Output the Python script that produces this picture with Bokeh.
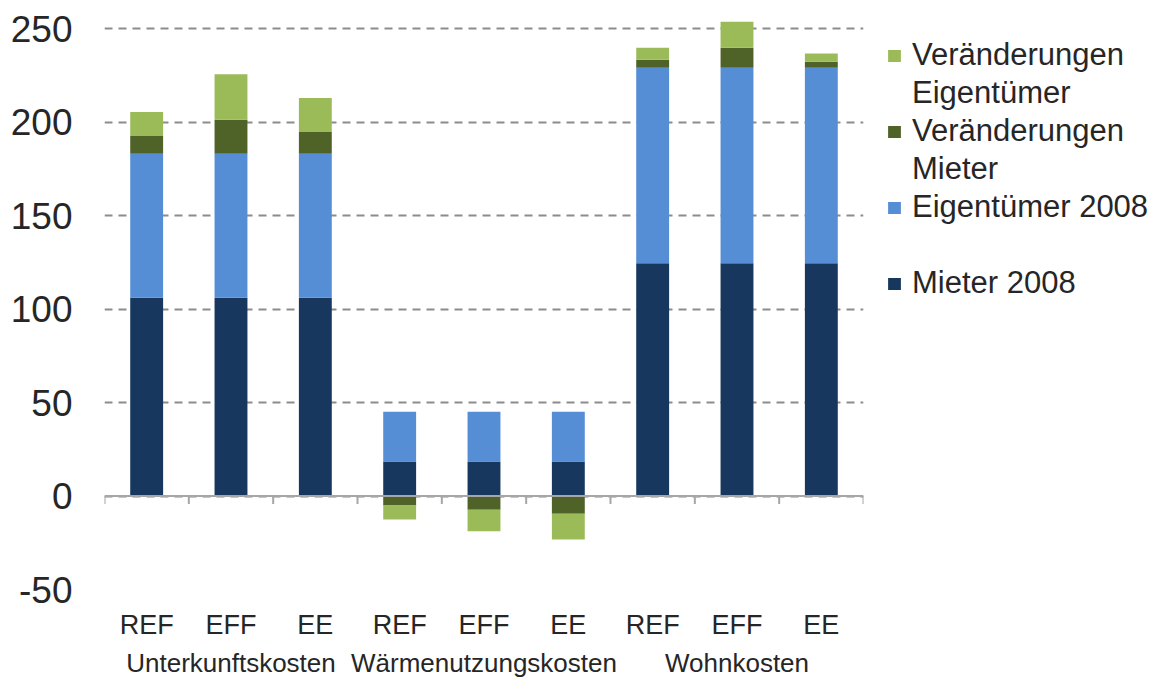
from bokeh.plotting import figure
from bokeh.models import (FactorRange, Range1d, FixedTicker, Legend, LegendItem,
                          ColumnDataSource, Span)
from bokeh.embed import file_html
from bokeh.resources import INLINE

# --- data -------------------------------------------------------------------
groups = ["Unterkunftskosten", "Wärmenutzungskosten", "Wohnkosten"]
scenarios = ["REF", "EFF", "EE"]

mieter_2008 = [106, 106, 106, 18.5, 18.5, 18.5, 124.5, 124.5, 124.5]
eigentuemer_2008 = [77, 77, 77, 26.5, 26.5, 26.5, 104.5, 104.5, 104.5]
veraenderungen_mieter = [9.5, 18.2, 11.6, -5.1, -7.4, -9.5, 4.3, 10.7, 3.2]
veraenderungen_eigentuemer = [12.9, 24.4, 18.2, -7.5, -11.4, -13.8, 6.4, 13.9, 4.5]

series_values = [mieter_2008, eigentuemer_2008,
                 veraenderungen_mieter, veraenderungen_eigentuemer]
series_colors = ["#17375E", "#558ED5", "#4F6228", "#9BBB59"]
# legend text per series, one list entry per printed line
series_labels = [["Mieter 2008"], ["Eigentümer 2008", ""],
                 ["Veränderungen", "Mieter"], ["Veränderungen", "Eigentümer"]]

y_ticks = [-50, 0, 50, 100, 150, 200, 250]

factors = [(g, s) for g in groups for s in scenarios]

# --- stacking: positives upward, negatives downward -------------------------
pos_base = [0.0] * len(factors)
neg_base = [0.0] * len(factors)
stacks = []
for vals in series_values:
    bottoms, tops = [], []
    for i, v in enumerate(vals):
        if v >= 0:
            bottoms.append(pos_base[i]); tops.append(pos_base[i] + v)
            pos_base[i] += v
        else:
            bottoms.append(neg_base[i]); tops.append(neg_base[i] + v)
            neg_base[i] += v
    stacks.append((bottoms, tops))

# --- figure -----------------------------------------------------------------
FONT = "Liberation Sans"
TEXT = "#262626"
PX_PER_UNIT = 561 / 300           # vertical scale of the value axis
Y_END = 257.5                     # headroom so the tallest bar is not clipped
FRAME_W = 759
FRAME_H = round((Y_END - y_ticks[0]) * PX_PER_UNIT)
BOTTOM_Y = 589                    # canvas row of the frame's lower edge
LEFT, RIGHT = 104, 300
TOP = BOTTOM_Y - FRAME_H

x_range = FactorRange(*factors, range_padding=0, group_padding=0,
                      factor_padding=0, subgroup_padding=0)
p = figure(x_range=x_range, y_range=Range1d(y_ticks[0], Y_END),
           frame_width=FRAME_W, frame_height=FRAME_H,
           output_backend="svg", toolbar_location=None,
           min_border_left=LEFT, min_border_right=RIGHT, min_border_top=TOP,
           min_border_bottom=686 - BOTTOM_Y)
p.outline_line_color = None
p.background_fill_color = "white"

renderers = []
for (bottoms, tops), color in zip(stacks, series_colors):
    src = ColumnDataSource(dict(x=factors, bottom=bottoms, top=tops))
    r = p.vbar(x="x", bottom="bottom", top="top", width=0.39, source=src,
               fill_color=color, line_color=None)
    renderers.append(r)

# horizontal axis line at zero with downward ticks at category borders
p.add_layout(Span(location=0, dimension="width", line_color="#A6A6A6",
                  line_width=2))
edges = [(g, s, -0.5) for g, s in factors] + [factors[-1] + (0.5,)]
tick_len = 8 / PX_PER_UNIT
p.segment(x0=edges, x1=edges, y0=[0] * len(edges), y1=[-tick_len] * len(edges),
          line_color="#A6A6A6", line_width=2)

# grid
p.xgrid.grid_line_color = None
p.ygrid.ticker = FixedTicker(ticks=y_ticks)
p.ygrid.grid_line_color = "#8C8C8C"
p.ygrid.grid_line_width = 2
p.ygrid.grid_line_dash = "8 6"

# y axis
p.yaxis.ticker = FixedTicker(ticks=y_ticks)
p.yaxis.major_label_overrides = {t: str(t) for t in y_ticks}
p.yaxis.axis_line_color = None
p.yaxis.major_tick_line_color = None
p.yaxis.minor_tick_line_color = None
p.yaxis.major_label_standoff = 26
p.yaxis.major_label_text_font = FONT
p.yaxis.major_label_text_font_size = "37px"
p.yaxis.major_label_text_color = TEXT

# x axis (scenario labels + group labels)
xa = p.xaxis[0]
xa.axis_line_color = None
xa.major_tick_line_color = None
xa.major_tick_out = 15
xa.separator_line_color = None
xa.major_label_standoff = 5
xa.major_label_text_font = FONT
xa.major_label_text_font_size = "27px"
xa.major_label_text_color = TEXT
xa.major_label_text_line_height = 1.0
xa.group_text_font = FONT
xa.group_text_font_size = "26px"
xa.group_text_font_style = "normal"
xa.group_text_color = TEXT
xa.group_text_line_height = 1.0

# legend beside the plot: top series first, marker on each entry's first line
ROW_H = 38
items = []
for lines, r in zip(series_labels[::-1], renderers[::-1]):
    items.append(LegendItem(label=lines[0], renderers=[r]))
    for extra in lines[1:]:
        items.append(LegendItem(label=extra, renderers=[]))
legend_top = 36  # pixels below the top edge of the canvas
legend = Legend(items=items, orientation="vertical",
                location=(23, BOTTOM_Y - legend_top - ROW_H * len(items)))
legend.border_line_color = None
legend.background_fill_alpha = 0
legend.margin = 0
legend.padding = 0
legend.spacing = 0
legend.label_height = ROW_H
legend.glyph_width = 16
legend.glyph_height = 15
legend.label_standoff = 10
legend.label_text_font = FONT
legend.label_text_font_size = "31px"
legend.label_text_color = TEXT
p.add_layout(legend, "right")

open("out.html", "w").write(file_html(p, INLINE))
